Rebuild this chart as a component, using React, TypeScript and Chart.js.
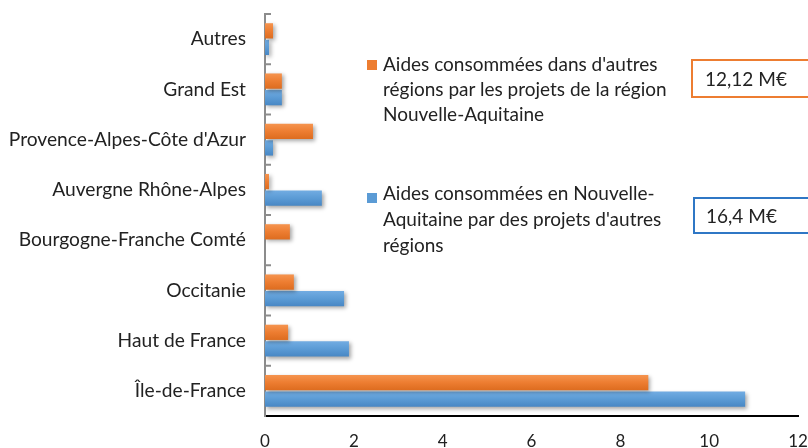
import React, { useEffect, useRef } from "react";
import { Chart, registerables } from "chart.js";

Chart.register(...registerables);

const categories = [
  "Autres",
  "Grand Est",
  "Provence-Alpes-Côte d'Azur",
  "Auvergne Rhône-Alpes",
  "Bourgogne-Franche Comté",
  "Occitanie",
  "Haut de France",
  "Île-de-France",
];
const orangeValues = [0.18, 0.38, 1.08, 0.09, 0.56, 0.65, 0.52, 8.63];
const blueValues = [0.09, 0.38, 0.18, 1.28, 0, 1.78, 1.89, 10.81];
const orangeLabelLines = [
  "Aides consommées dans d'autres",
  "régions par les projets de la région",
  "Nouvelle-Aquitaine",
];
const blueLabelLines = [
  "Aides consommées en Nouvelle-",
  "Aquitaine par des projets d'autres",
  "régions",
];
const orangeTotal = "12,12 M€";
const blueTotal = "16,4 M€";
const xMin = 0;
const xMax = 12;
const xStep = 2;

const FONT = "Lato, 'Open Sans', sans-serif";
const TEXT = "#222222";
const ORANGE = ["#F5944F", "#ED7D31", "#DD6C1F"];
const BLUE = ["#72ACE2", "#5B9BD5", "#4887C4"];
const CAT_PCT = 0.66;
const BAR_PCT = 0.92;

function gradientFor(c: any, colors: string[], dsIndex: number) {
  const chart = c.chart;
  const y = chart.scales && chart.scales.y;
  if (c.type !== "data" || !y || !chart.chartArea) return colors[1];
  const n = categories.length;
  const slot = (y.bottom - y.top) / n;
  const group = slot * CAT_PCT;
  const bar = group / 2;
  const center = y.getPixelForValue(c.dataIndex);
  const top = center - group / 2 + dsIndex * bar + (bar * (1 - BAR_PCT)) / 2;
  const h = bar * BAR_PCT;
  if (!isFinite(top) || !isFinite(h)) return colors[1];
  const g = chart.ctx.createLinearGradient(0, top, 0, top + h);
  g.addColorStop(0, colors[0]);
  g.addColorStop(0.5, colors[1]);
  g.addColorStop(1, colors[2]);
  return g;
}

const shadowPlugin = {
  id: "barShadow",
  beforeDatasetsDraw(chart: any) {
    const c = chart.ctx;
    c.save();
    c.shadowColor = "rgba(0,0,0,0.35)";
    c.shadowBlur = 4;
    c.shadowOffsetX = 2;
    c.shadowOffsetY = 2;
  },
  afterDatasetsDraw(chart: any) {
    chart.ctx.restore();
  },
};

const yTickPlugin = {
  id: "yInnerTicks",
  afterDraw(chart: any) {
    const y = chart.scales.y;
    const { ctx, chartArea } = chart;
    const n = categories.length;
    const slot = (y.bottom - y.top) / n;
    ctx.save();
    ctx.strokeStyle = "#8c8c8c";
    ctx.lineWidth = 2;
    for (let i = 0; i < n; i++) {
      const yy = y.getPixelForValue(i) - slot / 2;
      ctx.beginPath();
      ctx.moveTo(chartArea.left, yy);
      ctx.lineTo(chartArea.left + 6, yy);
      ctx.stroke();
    }
    ctx.restore();
  },
};

export default function App() {
  const canvasRef = useRef<HTMLCanvasElement | null>(null);

  useEffect(() => {
    document.body.style.margin = "0";
    const canvas = canvasRef.current;
    if (!canvas) return;
    const chart = new Chart(canvas, {
      type: "bar",
      data: {
        labels: categories,
        datasets: [
          {
            label: orangeLabelLines.join(" "),
            data: orangeValues,
            backgroundColor: (c: any) => gradientFor(c, ORANGE, 0),
            borderWidth: 0,
            categoryPercentage: CAT_PCT,
            barPercentage: BAR_PCT,
          },
          {
            label: blueLabelLines.join(" "),
            data: blueValues,
            backgroundColor: (c: any) => gradientFor(c, BLUE, 1),
            borderWidth: 0,
            categoryPercentage: CAT_PCT,
            barPercentage: BAR_PCT,
          },
        ],
      },
      options: {
        indexAxis: "y",
        responsive: false,
        animation: false,
        layout: { padding: { top: 14, right: 10, left: 0, bottom: 0 } },
        plugins: {
          legend: { display: false },
          tooltip: { enabled: false },
        },
        scales: {
          x: {
            min: xMin,
            max: xMax,
            ticks: {
              stepSize: xStep,
              color: TEXT,
              font: { family: FONT, size: 17 },
              padding: 15,
              maxRotation: 0,
            },
            grid: { display: false, drawTicks: false },
            border: { display: true, color: "#000000", width: 2 },
            afterFit(s: any) {
              s.height = 32;
              s.paddingLeft = 0;
              s.paddingRight = 0;
            },
          },
          y: {
            ticks: {
              color: TEXT,
              font: { family: FONT, size: 19.2 },
              padding: 19,
            },
            grid: { display: false, drawTicks: false },
            border: { display: true, color: "#8c8c8c", width: 2 },
            afterFit(s: any) {
              s.width = 265;
              s.paddingTop = 0;
              s.paddingBottom = 0;
            },
          },
        },
      },
      plugins: [shadowPlugin, yTickPlugin],
    } as any);
    return () => chart.destroy();
  }, []);

  const textStyle: React.CSSProperties = {
    position: "absolute",
    fontFamily: FONT,
    fontSize: 19,
    color: TEXT,
    whiteSpace: "nowrap",
  };

  return (
    <div
      style={{
        position: "relative",
        width: 808,
        height: 448,
        overflow: "hidden",
        background: "#ffffff",
      }}
    >
      <canvas
        ref={canvasRef}
        width={808}
        height={448}
        style={{ position: "absolute", left: 0, top: 0, width: 808, height: 448 }}
      />
      <div
        style={{
          position: "absolute",
          left: 367,
          top: 60,
          width: 10,
          height: 10,
          background: ORANGE[1],
        }}
      />
      <div style={{ ...textStyle, left: 383, top: 51, lineHeight: "25px" }}>
        {orangeLabelLines.map((l) => (
          <div key={l}>{l}</div>
        ))}
      </div>
      <div
        style={{
          position: "absolute",
          left: 367,
          top: 193,
          width: 10,
          height: 10,
          background: BLUE[1],
        }}
      />
      <div style={{ ...textStyle, left: 383, top: 180, lineHeight: "26px" }}>
        {blueLabelLines.map((l) => (
          <div key={l}>{l}</div>
        ))}
      </div>
      <div
        style={{
          position: "absolute",
          left: 691,
          top: 59,
          width: 140,
          height: 39,
          boxSizing: "border-box",
          border: "2px solid " + ORANGE[1],
          fontFamily: FONT,
          fontSize: 19,
          lineHeight: "35px",
          paddingLeft: 12,
          color: TEXT,
        }}
      >
        {orangeTotal}
      </div>
      <div
        style={{
          position: "absolute",
          left: 693,
          top: 197,
          width: 140,
          height: 37,
          boxSizing: "border-box",
          border: "2px solid #2F77C5",
          fontFamily: FONT,
          fontSize: 19,
          lineHeight: "33px",
          paddingLeft: 11,
          color: TEXT,
        }}
      >
        {blueTotal}
      </div>
    </div>
  );
}
